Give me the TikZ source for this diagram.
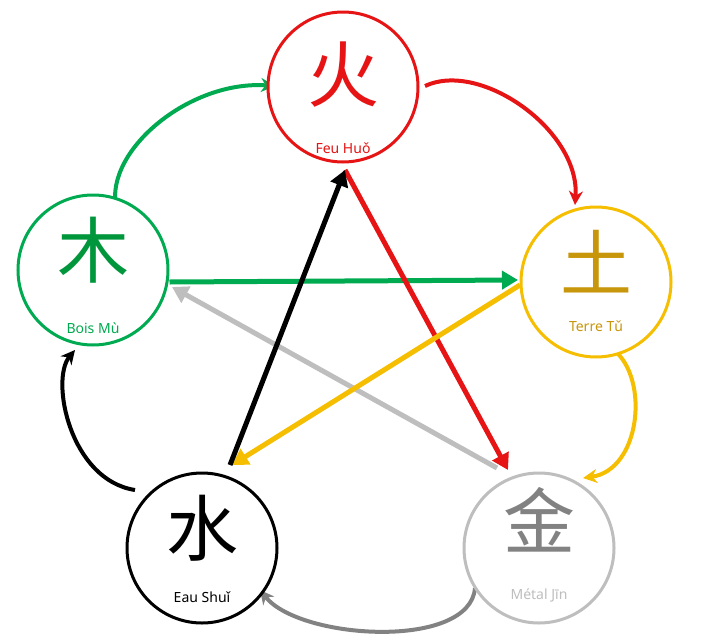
\documentclass[tikz,border=0pt]{standalone}
\usepackage{fontspec}
\setmainfont{Noto Sans}
\newfontfamily\cjk{Noto Sans CJK SC}
\usetikzlibrary{arrows.meta}
\definecolor{cFire}{RGB}{230,20,20}
\definecolor{cEarth}{RGB}{245,190,0}
\definecolor{cEarthT}{RGB}{200,150,10}
\definecolor{cMetal}{RGB}{190,190,190}
\definecolor{cMetalT}{RGB}{130,130,130}
\definecolor{cWood}{RGB}{0,170,80}
\definecolor{cWoodT}{RGB}{0,150,60}
\tikzset{
 elem/.style={circle,draw=#1,line width=3pt,fill=white,minimum size=150pt,inner sep=0pt},
 han/.style={font=\cjk\fontsize{72}{72}\selectfont},
 lab/.style={font=\fontsize{14}{16}\selectfont},
 star/.style={line width=5pt,-{Triangle[length=16pt,width=18pt]},draw=#1},
 outer/.style={line width=4pt,-{Stealth[length=14pt,width=14pt]},draw=#1}
}
\begin{document}
\begin{tikzpicture}[x=1pt,y=-1pt]
\useasboundingbox (0,0) rectangle (704,640);
% outer arrows
\coordinate (w1) at (116,207); \coordinate (f1) at (275,86);
\coordinate (f2) at (425,86); \coordinate (e1) at (575,205);
\coordinate (e2) at (614,350); \coordinate (m1) at (583,478);
\coordinate (m2) at (475,588); \coordinate (a1) at (260,590);
\coordinate (a2) at (135,490); \coordinate (b1) at (75,350);
\draw[outer=cWood] (w1) .. controls (105,150) and (190,80) .. (f1);
\draw[outer=cFire] (f2) .. controls (480,60) and (580,130) .. (e1);
\draw[outer=cEarth] (e2) .. controls (650,380) and (640,470) .. (m1);
\draw[outer=cMetalT] (m2) .. controls (470,650) and (300,640) .. (a1);
\draw[outer=black] (a2) .. controls (70,480) and (50,380) .. (b1);
% circles
\node[elem=cFire] (fire) at (343,87) {};
\node[elem=cEarth] (earth) at (596,282) {};
\node[elem=cMetal] (metal) at (539,548) {};
\node[elem=black] (water) at (202,548) {};
\node[elem=cWood] (wood) at (93,270) {};
\node[han,text=cFire] (fireH) at (343,75) {火};
\node[lab,text=cFire] (fireL) at (343,148) {Feu Huǒ};
\node[han,text=cEarthT] (earthH) at (596,262) {土};
\node[lab,text=cEarthT] (earthL) at (596,326) {Terre Tǔ};
\node[han,text=cMetalT] (metalH) at (539,520) {金};
\node[lab,text=cMetal] (metalL) at (539,595) {Métal Jīn};
\node[han,text=black] (waterH) at (202,528) {水};
\node[lab,text=black] (waterL) at (202,597) {Eau Shuǐ};
\node[han,text=cWoodT] (woodH) at (93,250) {木};
\node[lab,text=cWood] (woodL) at (93,328) {Bois Mù};
% star
\draw[star=cWood] (wood.east) ++(0,12) -- (518,280);
\draw[star=cMetal] (497,468) -- (172,287);
\draw[star=cFire] (345,170) -- (508,470);
\draw[star=cEarth] (520,285) -- (232,465);
\draw[star=black] (230,465) -- (345,170);
\end{tikzpicture}
\end{document}
